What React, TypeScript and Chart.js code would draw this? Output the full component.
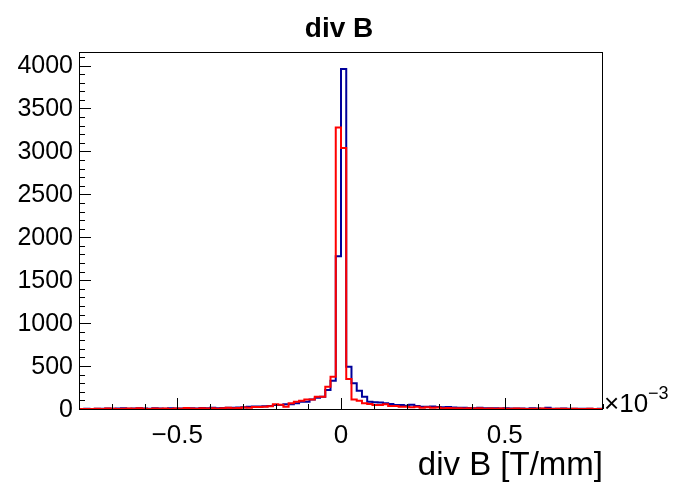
import React, { useEffect, useRef } from "react";
import { Chart, registerables } from "chart.js";

Chart.register(...registerables);

const TITLE = "div B";
const X_TITLE = "div B [T/mm]";
const X_EXP = "−3";
const X_MIN = -0.8;
const X_MAX = 0.8;
const BIN_WIDTH = 0.016;
const Y_MAX = 4158;
const X_MAJOR = [-0.5, 0, 0.5];
const X_MAJOR_LABELS = ["−0.5", "0", "0.5"];
const Y_MAJOR = [0, 500, 1000, 1500, 2000, 2500, 3000, 3500, 4000];

const blueCounts = [
  0, 2, 0, 4, 3, 6, 2, 5, 8, 4,
  6, 10, 5, 3, 8, 6, 4, 9, 7, 5,
  10, 8, 6, 12, 9, 14, 10, 12, 16, 14,
  18, 20, 26, 30, 28, 32,
  35, 47, 47, 54, 54, 66, 85, 85, 112, 132, 143, 221, 330, 1780,
  3960, 492, 299, 213, 143, 85, 79, 75, 66, 58, 47, 47, 39, 50, 35, 27, 27,
  30, 24, 20, 22, 18, 15, 16, 12, 10, 14,
  9, 8, 10, 6, 8, 5, 7, 6, 4, 8,
  5, 3, 14, 4, 3, 5, 2, 4, 3, 2,
  3, 1, 2,
];

const redCounts = [
  0, 1, 0, 2, 0, 5, 3, 0, 4, 6,
  3, 8, 4, 0, 6, 2, 5, 0, 7, 4,
  12, 5, 3, 8, 6, 10, 4, 9, 14, 8,
  12, 18, 16, 22, 24, 26,
  31, 54, 50, 27, 66, 85, 97, 112, 112, 143, 143, 260, 376, 3280,
  3040, 349, 110, 97, 66, 58, 47, 47, 54, 35, 35, 27, 27, 19, 25, 15, 20,
  14, 18, 10, 12, 8, 10, 6, 9, 5, 8,
  4, 6, 3, 7, 4, 2, 5, 3, 1, 4,
  2, 6, 3, 1, 2, 4, 0, 2, 1, 0,
  3, 1, 0,
];

function toSteps(counts: number[]) {
  const pts = counts.map((v, k) => ({ x: X_MIN + k * BIN_WIDTH, y: v }));
  pts.push({ x: X_MIN + counts.length * BIN_WIDTH, y: counts[counts.length - 1] });
  return pts;
}

const FONT = "'Liberation Sans', Arial, Helvetica, sans-serif";

const framePlugin = {
  id: "rootFrame",
  afterDraw(chart: any) {
    const { ctx, chartArea } = chart;
    const xs = chart.scales.x;
    const ys = chart.scales.y;
    const { left, right, top, bottom } = chartArea;
    ctx.save();
    // frame
    ctx.strokeStyle = "#000";
    ctx.lineWidth = 1;
    ctx.strokeRect(left + 0.5, top + 0.5, right - left - 1, bottom - top);
    // x ticks
    ctx.beginPath();
    for (let i = -8; i <= 8; i++) {
      const v = i / 10;
      const px = Math.round(xs.getPixelForValue(v)) + 0.5;
      const major = i % 5 === 0;
      ctx.moveTo(px, bottom);
      ctx.lineTo(px, bottom - (major ? 11 : 5));
    }
    // y ticks
    for (let v = 0; v <= Y_MAX; v += 100) {
      const py = Math.round(ys.getPixelForValue(v)) + 0.5;
      const major = v % 500 === 0;
      ctx.moveTo(left, py);
      ctx.lineTo(left + (major ? 12 : 6), py);
    }
    ctx.stroke();

    ctx.fillStyle = "#000";
    // y labels
    ctx.font = `25px ${FONT}`;
    ctx.textAlign = "right";
    ctx.textBaseline = "middle";
    Y_MAJOR.forEach((v) => {
      ctx.fillText(String(v), left - 6, ys.getPixelForValue(v) + 1);
    });
    // x labels
    ctx.font = `26px ${FONT}`;
    ctx.textAlign = "center";
    ctx.textBaseline = "top";
    X_MAJOR.forEach((v, i) => {
      ctx.fillText(X_MAJOR_LABELS[i], xs.getPixelForValue(v), bottom + 14);
    });
    // exponent
    ctx.textAlign = "left";
    ctx.textBaseline = "alphabetic";
    ctx.font = `26px ${FONT}`;
    ctx.fillText("×10", right + 1, bottom + 3);
    const w = ctx.measureText("×10").width;
    ctx.font = `18px ${FONT}`;
    ctx.fillText(X_EXP, right + 1 + w, bottom - 10);
    // axis title
    ctx.font = `33px ${FONT}`;
    ctx.textAlign = "right";
    ctx.fillText(X_TITLE, right, bottom + 66);
    // title
    ctx.font = `bold 28px ${FONT}`;
    ctx.textAlign = "center";
    ctx.fillText(TITLE, 339, 37);
    ctx.restore();
  },
};

export default function App() {
  const ref = useRef<HTMLCanvasElement | null>(null);
  useEffect(() => {
    if (!ref.current) return;
    const chart = new Chart(ref.current, {
      type: "line",
      data: {
        datasets: [
          {
            label: "red",
            data: toSteps(redCounts),
            borderColor: "#ff0000",
            borderWidth: 2,
            pointRadius: 0,
            stepped: true,
            fill: false,
          },
          {
            label: "blue",
            data: toSteps(blueCounts),
            borderColor: "#00009a",
            borderWidth: 2,
            pointRadius: 0,
            stepped: true,
            fill: false,
          },
        ],
      },
      options: {
        animation: false,
        responsive: false,
        layout: { padding: { left: 0, right: 70, top: 52, bottom: 0 } },
        plugins: { legend: { display: false }, tooltip: { enabled: false }, title: { display: false } },
        scales: {
          x: {
            type: "linear",
            min: X_MIN,
            max: X_MAX,
            grid: { display: false },
            border: { display: false },
            ticks: { display: false },
            afterFit: (s: any) => {
              s.height = 75;
            },
          },
          y: {
            type: "linear",
            min: 0,
            max: Y_MAX,
            grid: { display: false },
            border: { display: false },
            ticks: { display: false },
            afterFit: (s: any) => {
              s.width = 79;
            },
          },
        },
      },
      plugins: [framePlugin],
    });
    return () => chart.destroy();
  }, []);
  return (
    <div style={{ position: "fixed", left: 0, top: 0, width: 673, height: 484, background: "#fff" }}>
      <canvas ref={ref} width={673} height={484} style={{ display: "block" }} />
    </div>
  );
}
